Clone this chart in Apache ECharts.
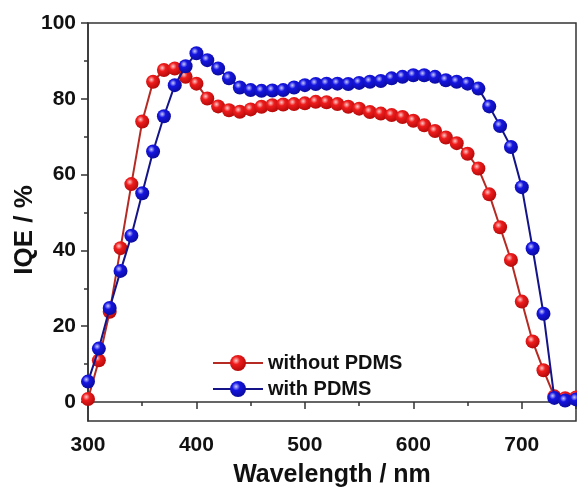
<!DOCTYPE html>
<html><head><meta charset="utf-8">
<script src="https://cdn.jsdelivr.net/npm/echarts@6/dist/echarts.min.js"></script>
<style>html,body{margin:0;padding:0;background:#fff}#c{width:577px;height:493px}</style>
</head><body><div id="c"></div>
<script>
const wavelengths = [300,310,320,330,340,350,360,370,380,390,400,410,420,430,440,450,460,470,480,490,500,510,520,530,540,550,560,570,580,590,600,610,620,630,640,650,660,670,680,690,700,710,720,730,740,750];
const withoutPDMS = [0.8,11,23.8,40.6,57.5,74,84.5,87.6,88,85.8,84,80.1,78,77,76.6,77.2,77.9,78.3,78.5,78.6,78.8,79.2,79.1,78.6,77.9,77.4,76.5,76.1,75.7,75.2,74.2,73.0,71.5,69.8,68.3,65.5,61.6,54.8,46.1,37.5,26.5,16,8.4,1.5,1.0,1.2];
const withPDMS = [5.4,14.1,24.8,34.6,43.9,55.1,66.1,75.4,83.6,88.6,92,90.2,88,85.4,83,82.3,82.1,82.2,82.3,83.0,83.6,83.9,84.0,84.0,83.9,84.2,84.5,84.7,85.4,85.8,86.2,86.2,85.8,84.9,84.5,84.0,82.7,78.0,72.8,67.3,56.7,40.5,23.3,1.1,0.4,0.7];
const seriesNames = ['without PDMS','with PDMS'];
const yMajorTicks = [0,20,40,60,80,100];
const yMinorTicks = [10,30,50,70,90];

const font = '"Liberation Sans", Arial, sans-serif';
function ball(base, dark, light){
  return {type:'radial',x:0.38,y:0.35,r:0.7,colorStops:[
    {offset:0,color:light},{offset:0.35,color:base},{offset:1,color:dark}]};
}
const chart = echarts.init(document.getElementById('c'));
chart.setOption({
  animation:false,
  grid:{left:88,right:1,top:23,bottom:72,show:true,borderColor:'#333',borderWidth:1.5,backgroundColor:'transparent',outerBoundsMode:'none',containLabel:false},
  legend:{
    orient:'vertical',left:207,top:348,itemWidth:50,itemHeight:20,itemGap:6,
    textStyle:{fontFamily:font,fontWeight:'bold',fontSize:20,color:'#111',lineHeight:20},
    data:seriesNames
  },
  xAxis:{
    type:'value',min:300,max:750,interval:100,
    name:'Wavelength / nm',nameLocation:'middle',nameGap:42,
    nameTextStyle:{fontFamily:font,fontWeight:'bold',fontSize:25,color:'#111'},
    axisLine:{lineStyle:{color:'#333',width:1.5}},
    axisTick:{inside:false,length:7,lineStyle:{color:'#333',width:1.5}},
    minorTick:{show:true,splitNumber:2,length:4,lineStyle:{color:'#333',width:1.5}},
    axisLabel:{margin:14,fontFamily:font,fontWeight:'bold',fontSize:21,color:'#111',showMaxLabel:false},
    splitLine:{show:false}
  },
  yAxis:[{
    type:'value',min:-5,max:100,
    name:'IQE / %',nameLocation:'middle',nameGap:50,nameMoveOverlap:false,
    nameTextStyle:{fontFamily:font,fontWeight:'bold',fontSize:26,color:'#111',padding:[0,16,0,0]},
    axisLine:{show:true,lineStyle:{color:'#333',width:1.5}},
    axisTick:{show:true,length:7,customValues:yMajorTicks,lineStyle:{color:'#333',width:1.5}},
    axisLabel:{margin:12,customValues:yMajorTicks,fontFamily:font,fontWeight:'bold',fontSize:21,color:'#111'},
    splitLine:{show:false}
  },{
    type:'value',min:-5,max:100,position:'left',offset:0,
    axisLine:{show:false},
    axisTick:{show:true,length:4,customValues:yMinorTicks,lineStyle:{color:'#333',width:1.5}},
    axisLabel:{show:false,customValues:yMinorTicks},
    splitLine:{show:false}
  }],
  series:[{
    name:seriesNames[0],type:'line',
    data:wavelengths.map((w,i)=>[w,withoutPDMS[i]]),
    symbol:'circle',symbolSize:14,
    lineStyle:{color:'#b52a22',width:2},
    itemStyle:{color:ball('#ee1c1c','#b00808','#ffc8c8'),borderWidth:0},
    z:2
  },{
    name:seriesNames[1],type:'line',
    data:wavelengths.map((w,i)=>[w,withPDMS[i]]),
    symbol:'circle',symbolSize:14,
    lineStyle:{color:'#141488',width:2},
    itemStyle:{color:ball('#1515e0','#0a0a9a','#c8c8ff'),borderWidth:0},
    z:3
  }]
});
</script></body></html>
